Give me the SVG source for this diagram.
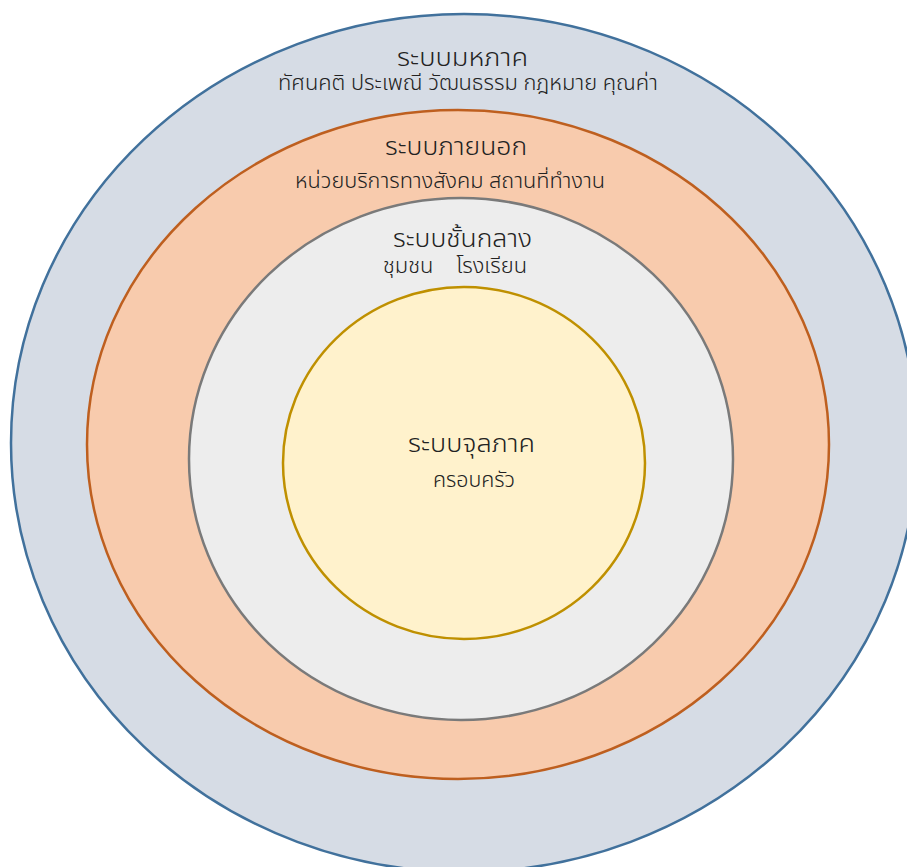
<svg xmlns="http://www.w3.org/2000/svg" width="907" height="867" viewBox="0 0 907 867">
<style>
.t{font-family:"Noto Sans Thai","Tahoma","Leelawadee UI","DejaVu Sans","Noto Sans",sans-serif;fill:#222222;text-anchor:middle;font-weight:300}
.h{font-size:24px}
.s{font-size:21px}
</style>
<rect width="907" height="867" fill="#ffffff"/>
<g id="macro">
<ellipse cx="464" cy="443" rx="453" ry="429" fill="#D6DCE5" stroke="#41719C" stroke-width="2.5"/>
<text class="t h" x="462.5" y="66" textLength="131" lengthAdjust="spacingAndGlyphs">ระบบมหภาค</text>
<text class="t s" x="468" y="90" textLength="380" lengthAdjust="spacingAndGlyphs">ทัศนคติ ประเพณี วัฒนธรรม กฎหมาย คุณค่า</text>
</g>
<g id="exo">
<ellipse cx="458" cy="444.5" rx="371" ry="334.5" fill="#F8CBAD" stroke="#BE5F1F" stroke-width="2.5"/>
<text class="t h" x="456" y="155" textLength="142" lengthAdjust="spacingAndGlyphs">ระบบภายนอก</text>
<text class="t s" x="450" y="188" textLength="310" lengthAdjust="spacingAndGlyphs">หน่วยบริการทางสังคม สถานที่ทำงาน</text>
</g>
<g id="meso">
<ellipse cx="461" cy="459" rx="272" ry="261" fill="#EDEDED" stroke="#7A7A7A" stroke-width="2.5"/>
<text class="t h" x="462.5" y="247" textLength="139" lengthAdjust="spacingAndGlyphs">ระบบชั้นกลาง</text>
<text class="t s" x="455" y="273" textLength="144" lengthAdjust="spacingAndGlyphs" xml:space="preserve">ชุมชน    โรงเรียน</text>
</g>
<g id="micro">
<ellipse cx="464" cy="463" rx="181" ry="176" fill="#FFF2CC" stroke="#BF9000" stroke-width="2.5"/>
<text class="t h" x="471.5" y="452" textLength="127" lengthAdjust="spacingAndGlyphs">ระบบจุลภาค</text>
<text class="t s" x="474" y="487" textLength="82" lengthAdjust="spacingAndGlyphs">ครอบครัว</text>
</g>
<g id="connectors"/>
</svg>
